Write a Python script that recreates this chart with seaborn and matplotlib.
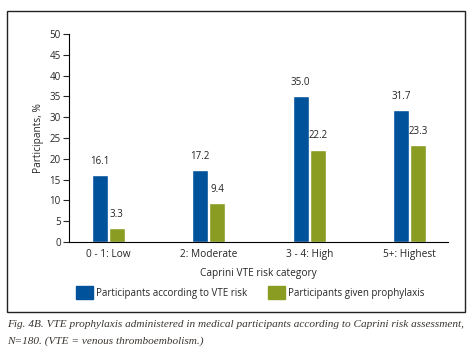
import pandas as pd
import matplotlib.pyplot as plt
import matplotlib.patches as mpatches
import seaborn as sns

# === Dati ===
categories = ["0 - 1: Low", "2: Moderate", "3 - 4: High", "5+: Highest"]
vte_risk = [16.1, 17.2, 35.0, 31.7]
prophylaxis = [3.3, 9.4, 22.2, 23.3]
series_names = ["Participants according to VTE risk", "Participants given prophylaxis"]
colors = ["#00529b", "#8a9c22"]

df = pd.DataFrame({
    "Category": categories * 2,
    "Value": vte_risk + prophylaxis,
    "Series": [series_names[0]] * 4 + [series_names[1]] * 4,
})

sns.set_style("white")
plt.rcParams["font.family"] = ["Open Sans", "DejaVu Sans"]

fig = plt.figure(figsize=(4.70, 3.49), dpi=100)
ax = fig.add_axes([0.147, 0.3066, 0.806, 0.596])

sns.barplot(data=df, x="Category", y="Value", hue="Series", palette=colors,
            width=0.34, gap=0.06, ax=ax, legend=False, saturation=1)

for container in ax.containers:
    ax.bar_label(container, fmt="%.1f", padding=6, fontsize=7, color="#222222")

ax.set_ylim(0, 50)
ax.set_yticks(range(0, 51, 5))
ax.set_xlim(-0.39, 3.38)
ax.set_ylabel("Participants, %", fontsize=7.3, labelpad=4)
ax.set_xlabel("Caprini VTE risk category", fontsize=7.3, labelpad=6)
ax.tick_params(axis="y", which="both", left=True, length=4, width=0.8, labelsize=7, pad=2)
ax.tick_params(axis="x", length=0, labelsize=7.3, pad=5)
sns.despine(ax=ax)
for s in ["left", "bottom"]:
    ax.spines[s].set_color("black")
    ax.spines[s].set_linewidth(0.8)

# legenda
handles = [mpatches.Patch(color=c, label=n) for c, n in zip(colors, series_names)]
fig.legend(handles=handles, loc="center left", bbox_to_anchor=(0.1426, 0.162), ncol=2,
           frameon=False, fontsize=7, handlelength=1.75, handleheight=1.65,
           handletextpad=0.3, columnspacing=2.2)

# cornice
fig.patches.append(mpatches.Rectangle((0.0149, 0.106), 0.974, 0.862, transform=fig.transFigure,
                                      fill=False, edgecolor="#222222", linewidth=1.0))

# didascalia
fig.text(0.0149, 0.07, "Fig. 4B. VTE prophylaxis administered in medical participants according to Caprini risk assessment,",
         fontsize=8.1, style="italic", family="Liberation Serif", color="#3a3530", va="center")
fig.text(0.0149, 0.023, "N=180. (VTE = venous thromboembolism.)",
         fontsize=8.1, style="italic", family="Liberation Serif", color="#3a3530", va="center")

fig.savefig("out.png", dpi=100)
